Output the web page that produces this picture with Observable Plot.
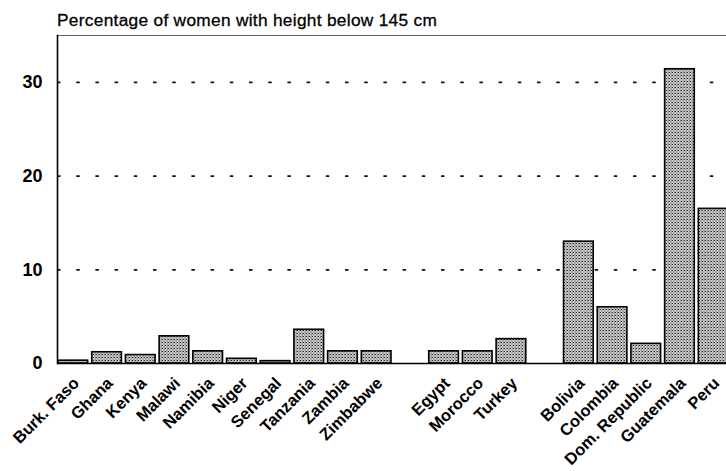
<!DOCTYPE html>
<html>
<head>
<meta charset="utf-8">
<script src="https://cdn.jsdelivr.net/npm/d3@7"></script>
<script src="https://cdn.jsdelivr.net/npm/@observablehq/plot@0.6"></script>
<style>
  html, body { margin: 0; padding: 0; background: #fff; }
  body { width: 726px; height: 471px; overflow: hidden; font-family: "Liberation Sans", Arial, sans-serif; }
  #title { height: 30px; box-sizing: border-box; padding-left: 57px; padding-top: 11px; font-size: 17.3px; letter-spacing: 0.3px; line-height: 18px; color: #000; -webkit-text-stroke: 0.3px #000; }
</style>
</head>
<body>
<svg width="0" height="0" style="position:absolute">
  <defs>
    <pattern id="stipple" width="3" height="3" patternUnits="userSpaceOnUse">
      <rect width="3" height="3" fill="#cfcfcf"></rect>
      <rect x="0" y="0" width="1" height="1" fill="#222"></rect>
      <rect x="1.5" y="1.5" width="1" height="1" fill="#333"></rect>
      <rect x="2" y="0" width="1" height="1" fill="#888"></rect>
    </pattern>
  </defs>
</svg>
<div id="title">Percentage of women with height below 145 cm</div>
<div id="chart"></div>
<script>
const countries = ["Burk. Faso", "Ghana", "Kenya", "Malawi", "Namibia", "Niger", "Senegal", "Tanzania", "Zambia", "Zimbabwe", "_gap1", "Egypt", "Morocco", "Turkey", "_gap2", "Bolivia", "Colombia", "Dom. Republic", "Guatemala", "Peru"];
const values = [0.3, 1.2, 0.9, 2.9, 1.3, 0.5, 0.25, 3.6, 1.3, 1.3, null, 1.3, 1.3, 2.6, null, 13.0, 6.0, 2.1, 31.4, 16.5];
const yTicks = [0, 10, 20, 30];
const gridValues = [10, 20, 30];

const data = countries.map((c, i) => ({country: c, value: values[i]})).filter(d => d.value != null);

const chart = Plot.plot({
  width: 726,
  height: 441,
  marginTop: 5,
  marginLeft: 57,
  marginRight: 0,
  marginBottom: 108,
  style: {fontFamily: "Liberation Sans, Arial, sans-serif", background: "#fff", overflow: "hidden"},
  x: {domain: countries, range: [56, 730], paddingInner: 0.12, paddingOuter: 0.06, round: false},
  y: {domain: [0, 35]},
  marks: [
    Plot.ruleY(gridValues, {stroke: "#111", strokeWidth: 1.8, strokeDasharray: "3.5,15.7"}),
    Plot.ruleY([35], {stroke: "#666", strokeWidth: 1}),
    Plot.barY(data, {x: "country", y: "value", fill: "url(#stipple)", stroke: "#000", strokeWidth: 1.6}),
    Plot.ruleY([0], {stroke: "#000", strokeWidth: 1.5}),
    Plot.frame({anchor: "left", stroke: "#000", strokeWidth: 1.6}),
    Plot.axisY({ticks: yTicks, tickSize: 0, tickPadding: 15, fontSize: 18, fontWeight: "bold", label: null, fill: "#000"}),
    Plot.axisX({tickSize: 0, tickPadding: 0, tickRotate: -45, fontSize: 16.5, fontWeight: "bold", label: null, fill: "#000", dx: 3, dy: 17,
      tickFormat: d => d.startsWith("_") ? "" : d})
  ]
});
document.getElementById("chart").appendChild(chart);
</script>
</body>
</html>
